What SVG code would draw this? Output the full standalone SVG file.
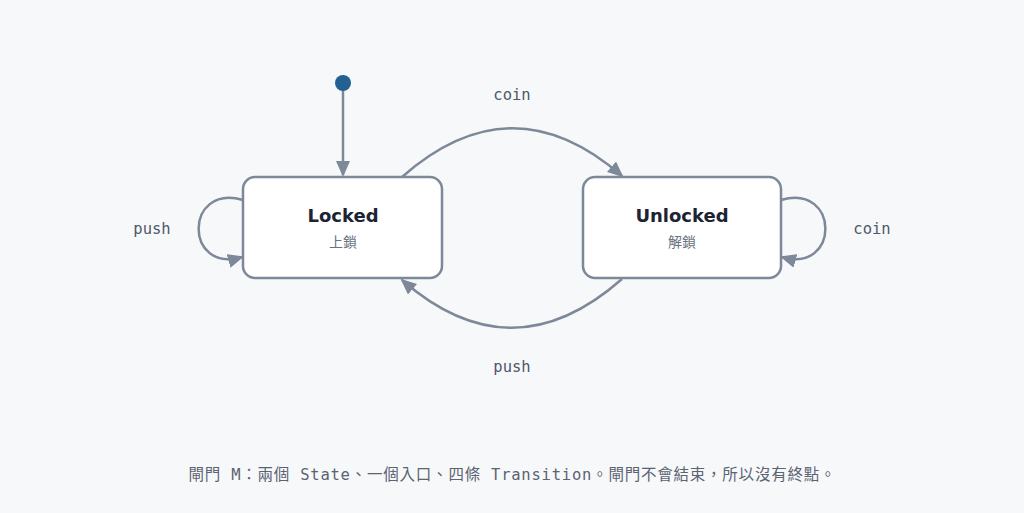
<svg xmlns="http://www.w3.org/2000/svg" width="1024" height="513" viewBox="0 0 1024 513">
<style>
.node{fill:#fff;stroke:#7d8898;stroke-width:2.5}
.edge{fill:none;stroke:#7d8898;stroke-width:2.5}
.t{font-family:"DejaVu Sans","Noto Sans CJK TC",sans-serif;font-weight:bold;font-size:18px;fill:#1c2433;text-anchor:middle}
.s{font-family:"Noto Sans CJK TC",sans-serif;font-size:14px;fill:#6b7380;text-anchor:middle}
.l{font-family:"DejaVu Sans Mono",monospace;font-size:15.5px;fill:#4f5968;text-anchor:middle}
.c{font-family:"DejaVu Sans Mono","Noto Sans CJK TC",monospace;font-size:15.5px;fill:#5a6372;text-anchor:middle}
</style>
<defs>
<marker id="a" markerWidth="16" markerHeight="14" refX="14" refY="7" orient="auto" markerUnits="userSpaceOnUse">
<path d="M0,0 L16,7 L0,14 z" fill="#7d8898"/>
</marker>
</defs>
<rect width="1024" height="513" fill="#f7f8fa"/>
<g id="connectors">
<line class="edge" x1="343" y1="90" x2="343" y2="175" marker-end="url(#a)"/>
<path class="edge" d="M402,177 Q512,80 622,176" marker-end="url(#a)"/>
<path class="edge" d="M622,279 Q512,376 402,280" marker-end="url(#a)"/>
<path class="edge" d="M243,200 C184,183 184,274 242,257" marker-end="url(#a)"/>
<path class="edge" d="M781,200 C840,183 840,274 782,257" marker-end="url(#a)"/>
<text class="l" x="512" y="100">coin</text>
<text class="l" x="512" y="372">push</text>
<text class="l" x="152" y="234">push</text>
<text class="l" x="872" y="234">coin</text>
</g>
<g id="start"><circle cx="343" cy="83" r="8" fill="#236192"/></g>
<g id="locked">
<rect class="node" x="243" y="177" width="199" height="101" rx="12"/>
<text class="t" x="343" y="222">Locked</text>
<text class="s" x="343" y="247">上鎖</text>
</g>
<g id="unlocked">
<rect class="node" x="583" y="177" width="198" height="101" rx="12"/>
<text class="t" x="682" y="222">Unlocked</text>
<text class="s" x="682" y="247">解鎖</text>
</g>
<text class="c" x="512" y="480" textLength="647" lengthAdjust="spacing">閘門 M：兩個 State、一個入口、四條 Transition。閘門不會結束，所以沒有終點。</text>
</svg>
